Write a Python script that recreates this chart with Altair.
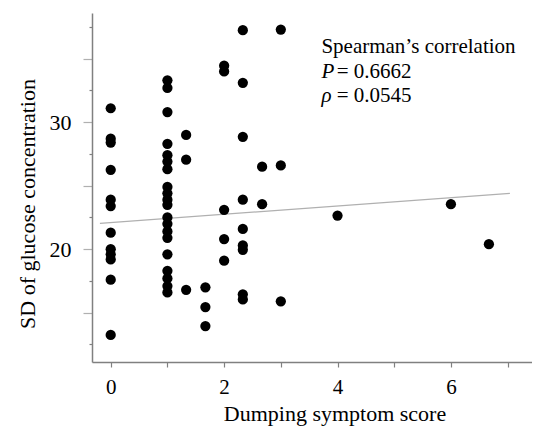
import altair as alt
import pandas as pd

# Dumping symptom score (x) and SD of glucose concentration (y)
score = [
    0, 0, 0, 0, 0, 0, 0, 0, 0, 0, 0, 0,
    1, 1, 1, 1, 1, 1, 1, 1, 1, 1, 1, 1, 1, 1, 1, 1, 1, 1, 1, 1,
    1.33, 1.33, 1.33,
    1.67, 1.67, 1.67,
    2, 2, 2, 2, 2,
    2.33, 2.33, 2.33, 2.33, 2.33, 2.33, 2.33, 2.33, 2.33,
    2.67, 2.67,
    3, 3, 3,
    4,
    6,
    6.67,
]
sd = [
    31.1, 28.7, 28.4, 26.25, 23.9, 23.4, 21.3, 20.0, 19.6, 19.2, 17.6, 13.25,
    33.3, 32.7, 30.8, 28.3, 27.4, 26.9, 26.3, 24.9, 24.4, 23.9, 23.5, 22.5,
    22.0, 21.4, 20.9, 19.6, 18.3, 17.7, 17.1, 16.6,
    29.0, 27.05, 16.8,
    17.0, 15.45, 13.95,
    34.45, 34.0, 23.1, 20.8, 19.1,
    37.25, 33.1, 28.85, 23.9, 21.6, 20.3, 19.95, 16.45, 16.05,
    26.5, 23.55,
    37.3, 26.6, 15.9,
    22.65,
    23.55,
    20.4,
]

# fitted regression line end points
fit_x = [-0.19, 7.04]
fit_y = [22.04, 24.4]

x_ticks = [0, 1, 2, 3, 4, 5, 6, 7]
y_ticks = [12.5, 15, 17.5, 20, 22.5, 25, 27.5, 30, 32.5, 35, 37.5]

note_title = ["Spearman\u2019s correlation"]
note_p_sym = ["P"]
note_p_val = ["= 0.6662"]
note_r_sym = ["\u03c1"]
note_r_val = ["= 0.0545"]

FONT = "Liberation Serif"

pts = pd.DataFrame({"score": score, "sd": sd})
fit = pd.DataFrame({"score": fit_x, "sd": fit_y})

xscale = alt.Scale(domain=[-0.33, 7.43], nice=False, zero=False)
yscale = alt.Scale(domain=[11.12, 38.6], nice=False, zero=False)

xaxis = alt.Axis(
    values=x_ticks,
    labelExpr="datum.value % 2 === 0 ? datum.label : ''",
    title="Dumping symptom score",
    tickSize=5,
    labelPadding=26,
    labelBaseline="alphabetic",
    labelFontSize=21,
    titleFontSize=22,
    titleX=242.5,
    titleY=58.5,
    titleAlign="center",
    titleBaseline="alphabetic",
)
yaxis = alt.Axis(
    values=y_ticks,
    labelExpr="(datum.value === 20 || datum.value === 30) ? datum.label : ''",
    title="SD of glucose concentration",
    tickSize={"condition": {"test": "datum.value % 5 === 0", "value": 9}, "value": 3},
    tickColor={"condition": {"test": "datum.value % 5 === 0", "value": "#b0b0b0"}, "value": "#808080"},
    labelPadding=12,
    labelFontSize=22,
    titleFontSize=22,
    titleAngle=270,
    titleX=-58,
    titleY=190.5,
    titleAlign="center",
    titleBaseline="alphabetic",
)

X = alt.X("score:Q", scale=xscale, axis=xaxis)
Y = alt.Y("sd:Q", scale=yscale, axis=yaxis)

line = alt.Chart(fit).mark_line(color="#b0b0b0", strokeWidth=1.2).encode(x=X, y=Y)
points = alt.Chart(pts).mark_circle(color="#000000", opacity=1, size=105).encode(x=X, y=Y)


def note(lines, x, y, italic=False):
    return alt.Chart(pd.DataFrame({"t": lines})).mark_text(
        align="left",
        baseline="alphabetic",
        font=FONT,
        fontSize=21,
        fontStyle="italic" if italic else "normal",
        color="black",
    ).encode(text="t:N", x=alt.value(x), y=alt.value(y))


chart = alt.layer(
    line,
    points,
    note(note_title, 229.4, 40.3),
    note(note_p_sym, 229.4, 65.3, italic=True),
    note(note_p_val, 244.7, 65.3),
    note(note_r_sym, 229.4, 88.7, italic=True),
    note(note_r_val, 244.7, 88.7),
).properties(
    width=440,
    height=349,
    autosize="none",
    padding={"left": 84, "top": 5, "right": 0, "bottom": 64},
).configure_view(
    stroke=None
).configure_axis(
    grid=False,
    domainColor="#808080",
    domainWidth=1.5,
    tickColor="#808080",
    tickWidth=1.2,
    labelFont=FONT,
    titleFont=FONT,
    labelColor="black",
    titleColor="black",
    titleFontWeight="normal",
)

chart.save("out.html", embed_options={"renderer": "svg", "actions": False})
